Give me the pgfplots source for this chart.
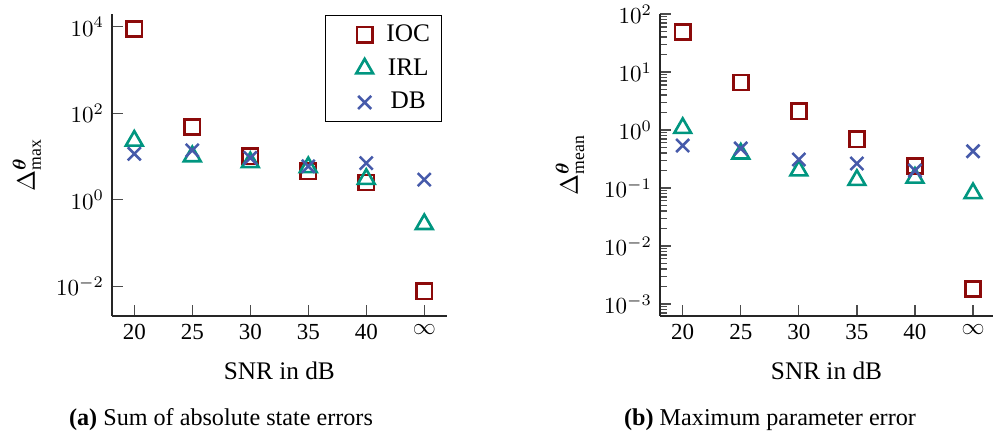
\documentclass[border=0pt]{standalone}
\usepackage{amsmath}
\usepackage{fontspec}
\setmainfont{Liberation Serif}
\usepackage{pgfplots}
\pgfplotsset{compat=1.18}
\definecolor{cIOC}{RGB}{140,10,10}
\definecolor{cIRL}{RGB}{0,150,128}
\definecolor{cDB}{RGB}{70,90,170}

\pgfplotstableread{
x IOC IRL DB
0 8900 23 11.5
1 47.5 10 13.8
2 10 7.3 9.2
3 4.5 5.6 5.9
4 2.5 3.0 7.0
5 0.0076 0.27 2.9
}\tabmax

\pgfplotstableread{
x IOC IRL DB
0 49 1.08 0.54
1 6.6 0.39 0.48
2 2.1 0.20 0.31
3 0.69 0.137 0.265
4 0.24 0.15 0.20
5 0.0018 0.081 0.43
}\tabmean

\begin{document}
\begin{tikzpicture}
\useasboundingbox (0,0) rectangle (431.74pt,-189.13pt);

\begin{axis}[
  scale only axis,
  ymode=log,
  axis x line*=bottom,
  axis y line*=left,
  axis line style={black!85, line width=0.5pt},
  xtick align=inside,
  ytick align=inside,
  ytick pos=left,
  xtick pos=bottom,
  major tick length=4.7pt,
  xtick style={draw=black!70, line width=0.55pt},
  ytick style={draw=black!70, line width=0.55pt},
  xtick={0,1,2,3,4,5},
  xticklabels={20,25,30,35,40,$\infty$},
  ticklabel style={font=\fontsize{10}{12}\selectfont},
  xlabel={SNR in dB},
  xlabel style={at={(axis description cs:0.5,-0.209)}, anchor=base, font=\fontsize{11}{13}\selectfont},
  clip=false,
  at={(48.70pt,-137.39pt)}, anchor=south west,
  width=145.5pt, height=131.3pt,
  xmin=-0.384, xmax=5.386,
  ymin=0.00204, ymax=19630,
  ytick={1e-2,1,1e2,1e4},
  yminorticks=false,
  ylabel={$\Delta^{\boldsymbol{\theta}}_{\mathrm{max}}$},
  ylabel style={at={(axis description cs:-0.254,0.5)}, anchor=center, font=\fontsize{11}{13}\selectfont},
  legend image code/.code={\path (-13.4pt,0pt) (6.9pt,0pt); \draw[#1] plot coordinates {(0pt,0pt)};},
  legend style={at={(axis description cs:0.986,0.997)}, anchor=north east,
    draw=black, row sep=2pt, font=\fontsize{11}{13}\selectfont},
]
\addplot[only marks, mark=square, mark size=3.3pt, color=cIOC, line width=1.15pt] table[x=x,y=IOC] {\tabmax};
\addplot[only marks, mark=triangle, mark size=4.2pt, color=cIRL, line width=1.15pt] table[x=x,y=IRL] {\tabmax};
\addplot[only marks, mark=x, mark size=4pt, color=cDB, line width=1.1pt] table[x=x,y=DB] {\tabmax};
\legend{IOC,IRL,DB}
\end{axis}

\begin{axis}[
  scale only axis,
  ymode=log,
  axis x line*=bottom,
  axis y line*=left,
  axis line style={black!85, line width=0.5pt},
  xtick align=inside,
  ytick align=inside,
  ytick pos=left,
  xtick pos=bottom,
  major tick length=4.7pt,
  minor tick length=2.9pt,
  xtick style={draw=black!70, line width=0.55pt},
  ytick style={draw=black!70, line width=0.55pt},
  xtick={0,1,2,3,4,5},
  xticklabels={20,25,30,35,40,$\infty$},
  ticklabel style={font=\fontsize{10}{12}\selectfont},
  xlabel={SNR in dB},
  xlabel style={at={(axis description cs:0.5,-0.209)}, anchor=base, font=\fontsize{11}{13}\selectfont},
  clip=false,
  at={(286.96pt,-137.39pt)}, anchor=south west,
  width=144.78pt, height=131.3pt,
  xmin=-0.391, xmax=5.344,
  ymin=0.000621, ymax=100,
  ytick={1e-3,1e-2,1e-1,1,10,100},
  yminorticks=true,
  minor ytick={7e-4,8e-4,9e-4,2e-3,3e-3,4e-3,5e-3,6e-3,7e-3,8e-3,9e-3,2e-2,3e-2,4e-2,5e-2,6e-2,7e-2,8e-2,9e-2,0.2,0.3,0.4,0.5,0.6,0.7,0.8,0.9,2,3,4,5,6,7,8,9,20,30,40,50,60,70,80,90},
  ylabel={$\Delta^{\boldsymbol{\theta}}_{\mathrm{mean}}$},
  ylabel style={at={(axis description cs:-0.27,0.5)}, anchor=center, font=\fontsize{11}{13}\selectfont},
]
\addplot[only marks, mark=square, mark size=3.3pt, color=cIOC, line width=1.15pt] table[x=x,y=IOC] {\tabmean};
\addplot[only marks, mark=triangle, mark size=4.2pt, color=cIRL, line width=1.15pt] table[x=x,y=IRL] {\tabmean};
\addplot[only marks, mark=x, mark size=4pt, color=cDB, line width=1.1pt] table[x=x,y=DB] {\tabmean};
\end{axis}

\node[anchor=base, font=\fontsize{10.5}{12.5}\selectfont] at (96.1pt,-184.8pt) {\textbf{(a)} Sum of absolute state errors};
\node[anchor=base, font=\fontsize{10.5}{12.5}\selectfont] at (334.8pt,-184.8pt) {\textbf{(b)} Maximum parameter error};
\end{tikzpicture}
\end{document}
